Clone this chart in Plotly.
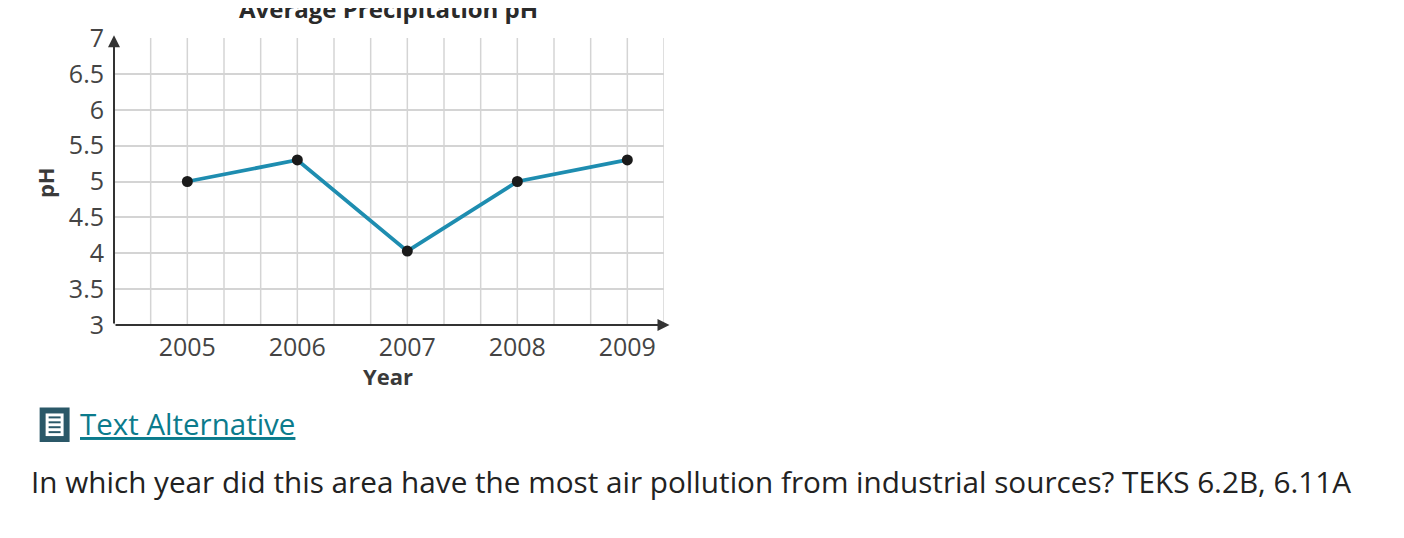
import plotly.graph_objects as go

# data
years = [2005, 2006, 2007, 2008, 2009]
ph_values = [5.0, 5.3, 4.03, 5.0, 5.3]
y_ticks = [3, 3.5, 4, 4.5, 5, 5.5, 6, 6.5, 7]
y_labels = ["3", "3.5", "4", "4.5", "5", "5.5", "6", "6.5", "7"]

# the page body has an 8px margin, so the figure is a bit smaller than the window
PAD = 8
W, H = 1404 - 2 * PAD, 538 - 2 * PAD
L, R, T, B = 113.5, 664.5, 33, 325  # plot area in screen pixels


def px(x):
    return (x - L) / (R - L)


def py(y):
    return (B - y) / (B - T)


fig = go.Figure()

fig.add_trace(go.Scatter(
    x=years, y=ph_values,
    mode="lines+markers",
    line=dict(color="#1e8db0", width=3.8),
    marker=dict(color="#1a1a1a", size=11),
    cliponaxis=False,
    hoverinfo="x+y",
))

grid_x = [2004 + i / 3 for i in range(1, 17)]
tick_font = dict(family="Open Sans, sans-serif", size=25, color="#444444")

fig.update_layout(
    width=W, height=H,
    margin=dict(l=L - PAD, r=W - (R - PAD), t=T - PAD, b=H - (B - PAD)),
    paper_bgcolor="white",
    plot_bgcolor="white",
    showlegend=False,
    font=dict(family="Open Sans, sans-serif", color="#3a3a3a"),
    xaxis=dict(
        range=[2004 + 1 / 3, 2009 + 1 / 3],
        tickvals=years,
        ticktext=[str(y) for y in years],
        tickfont=tick_font,
        showgrid=False,
        zeroline=False,
        showline=False,
        ticks="",
        ticklabelstandoff=5,
        fixedrange=True,
    ),
    yaxis=dict(
        range=[3, 7],
        tickvals=y_ticks,
        ticktext=y_labels,
        tickfont=tick_font,
        gridcolor="#d4d4d4",
        gridwidth=1.5,
        zeroline=False,
        showline=False,
        ticks="",
        ticklabelstandoff=9,
        fixedrange=True,
    ),
)

# vertical grid lines every third of a year
for gx in grid_x:
    fig.add_shape(type="line", xref="x", yref="paper", x0=gx, x1=gx, y0=0, y1=1,
                  line=dict(color="#d4d4d4", width=1.5), layer="below")

# axis lines with arrows
fig.add_annotation(xref="x domain", yref="y domain", x=0, y=1.01, ax=0, ay=0,
                   axref="x domain", ayref="y domain", showarrow=True, arrowhead=2,
                   arrowsize=1.2, arrowwidth=2, arrowcolor="#333", text="")
fig.add_annotation(xref="x domain", yref="y domain", x=1.01, y=0, ax=0, ay=0,
                   axref="x domain", ayref="y domain", showarrow=True, arrowhead=2,
                   arrowsize=1.2, arrowwidth=2, arrowcolor="#333", text="")

# titles (the chart title sits partly above the top edge, as in the source)
fig.add_annotation(xref="paper", yref="paper", x=px(388), y=py(3),
                   text="<b>Average Precipitation pH</b>", showarrow=False,
                   font=dict(size=24, color="#2a2a2a"), yanchor="middle")
fig.add_annotation(xref="paper", yref="paper", x=px(388), y=py(377),
                   text="<b>Year</b>", showarrow=False,
                   font=dict(size=22, color="#3a3a3a"), yanchor="middle")
fig.add_annotation(xref="paper", yref="paper", x=px(45), y=py(180),
                   text="<b>pH</b>", showarrow=False, textangle=-90,
                   font=dict(size=22, color="#3a3a3a"), xanchor="center")

# text alternative link with icon
fig.add_shape(type="rect", xref="paper", yref="paper",
              x0=px(40), x1=px(68), y0=py(443), y1=py(410),
              fillcolor="#2b5868", line=dict(color="#2b5868", width=2))
fig.add_shape(type="rect", xref="paper", yref="paper",
              x0=px(45), x1=px(63), y0=py(438), y1=py(415),
              fillcolor="white", line=dict(width=0))
for ly in [419, 424, 429, 434]:
    fig.add_shape(type="line", xref="paper", yref="paper",
                  x0=px(48), x1=px(60), y0=py(ly), y1=py(ly),
                  line=dict(color="#2b5868", width=2))
fig.add_annotation(xref="paper", yref="paper", x=px(77), y=py(425),
                   text="<u>Text Alternative</u>", showarrow=False,
                   xanchor="left", yanchor="middle",
                   font=dict(size=29.5, color="#0b7b8c"))
fig.add_annotation(xref="paper", yref="paper", x=px(28), y=py(484),
                   text="In which year did this area have the most air pollution "
                        "from industrial sources? TEKS 6.2B, 6.11A",
                   showarrow=False, xanchor="left", yanchor="middle",
                   font=dict(size=29.7, color="#222222"))

fig.write_html("out.html")
